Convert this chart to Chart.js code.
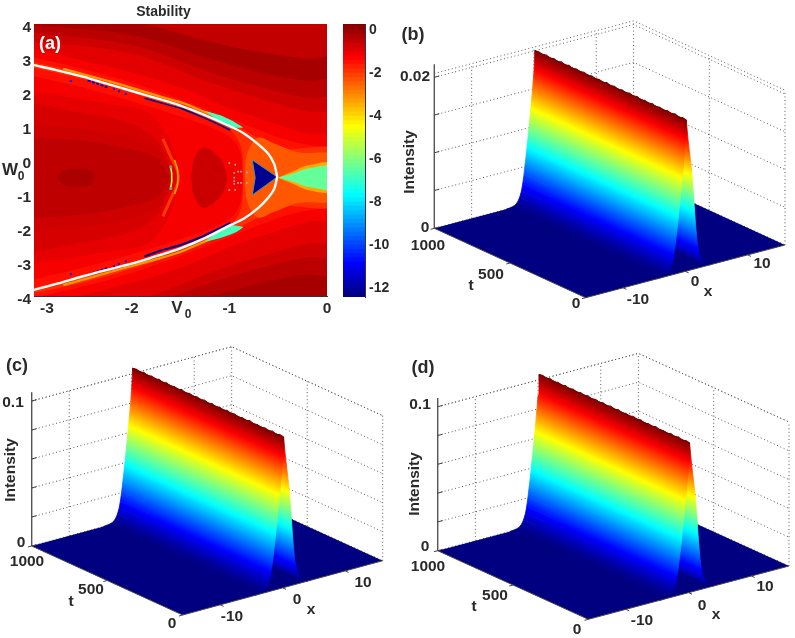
<!DOCTYPE html>
<html><head><meta charset="utf-8">
<script src="https://cdn.jsdelivr.net/npm/chart.js@4"></script>
<style>
html,body{margin:0;padding:0;background:#fff;width:795px;height:638px;overflow:hidden}
canvas{position:absolute;filter:blur(0.35px)}
#a{filter:blur(0.4px)}
</style></head><body>
<canvas id="a" style="left:0;top:0"></canvas>
<canvas id="bar" style="left:340px;top:0"></canvas>
<canvas id="b" style="left:395px;top:0"></canvas>
<canvas id="c" style="left:0;top:325px"></canvas>
<canvas id="d" style="left:395px;top:325px"></canvas>
<script>
/* ---------- data ---------- */
const colorbarLevels=[-12.4,-12.2,-12,-11.8,-11.6,-11.4,-11.2,-11,-10.8,-10.6,-10.4,-10.2,-10,-9.8,-9.6,-9.4,-9.2,-9,-8.8,-8.6,-8.4,-8.2,-8,-7.8,-7.6,-7.4,-7.2,-7,-6.8,-6.6,-6.4,-6.2,-6,-5.8,-5.6,-5.4,-5.2,-5,-4.8,-4.6,-4.4,-4.2,-4,-3.8,-3.6,-3.4,-3.2,-3,-2.8,-2.6,-2.4,-2.2,-2,-1.8,-1.6,-1.4,-1.2,-1,-0.8,-0.6,-0.4,-0.2,0,0.2];
const centreW=-0.52;
/* stability bands, painted in order: value, V0 list, half width about centreW */
const bandValues=[-0.2,-0.45,-0.7,-0.95,-1.2,-1.5,-1.9,-2.4,-3.4,-6.4,-1.5,-1.2,-1.0,-0.8,-0.65,-0.7,-0.5,-0.25];
const bandV=[
[-3.1,-2,-1.2,-0.6,-0.2,0.1],
[-3.1,-2,-1.2,-0.6,-0.2,0.1],
[-3.1,-2,-1.2,-0.6,-0.2,0.1],
[-3.1,-2,-1.2,-0.6,-0.2,0.1],
[-3.1,-2.5,-2,-1.5,-1,-0.6,-0.2,0.1],
[-3.1,-2.5,-2,-1.5,-1,-0.7,-0.4,-0.1,0.1],
[-3.1,-2.5,-2,-1.5,-1,-0.7,-0.5,0.1],
[-0.84,-0.83,-0.78,-0.7,-0.55,-0.3,0.1],
[-0.5,-0.35,-0.2,0.1],
[-0.5,-0.35,-0.2,0.1],
[-3.1,-2.5,-2,-1.5,-1,-0.88,-0.86],
[-3.1,-2.5,-2,-1.5,-1.05,-0.9,-0.86],
[-3.1,-2.6,-2.2,-1.85,-1.65,-1.54,-1.5],
[-3.1,-2.6,-2.2,-1.9,-1.7,-1.6],
[-1.39,-1.36,-1.27,-1.15,-1.06,-1.02],
[-3.1,-2.8,-2.4,-2,-1.7,-1.58],
[-3.1,-2.8,-2.4,-2.05,-1.75,-1.6],
[-2.77,-2.7,-2.55,-2.4,-2.38]];
const bandD=[
[4.9,4.6,4.0,3.65,3.5,3.45],
[4.5,4.2,3.5,3.05,2.85,2.8],
[4.3,3.9,3.1,2.6,2.35,2.25],
[4.05,3.65,2.8,2.25,1.95,1.8],
[3.85,3.45,3.1,2.65,2.05,1.65,1.3,1.15],
[3.6,3.2,2.8,2.3,1.75,1.4,1.1,0.92,0.88],
[3.45,3.08,2.68,2.2,1.62,1.15,0.85,0.78],
[0,0.55,0.95,1.18,1.02,0.75,0.62],
[0,0.18,0.36,0.4],
[0,0.12,0.27,0.32],
[3.3,2.9,2.5,2.02,1.42,0.9,0],
[3.05,2.65,2.25,1.8,1.3,0.85,0],
[2.55,2.35,2.15,1.95,1.3,0.5,0],
[2.25,1.95,1.75,1.45,0.95,0],
[0,0.55,0.88,0.72,0.4,0],
[1.55,1.5,1.4,1.2,0.8,0],
[1.2,1.15,1.05,0.85,0.6,0],
[0,0.2,0.26,0.18,0]];
const curveV=[-3,-2.75,-2.5,-2.25,-2,-1.75,-1.5,-1.25,-1,-0.85,-0.7,-0.6,-0.54,-0.51];
const curveUpperW=[2.79,2.63,2.45,2.24,2.03,1.82,1.6,1.32,1.0,0.78,0.45,0.18,-0.12,-0.5];
const curveLowerW=[-3.82,-3.63,-3.42,-3.23,-3.05,-2.83,-2.6,-2.3,-1.93,-1.72,-1.4,-1.1,-0.85,-0.5];
const triangleV=[-0.765,-0.51,-0.765,-0.735,-0.765];
const triangleW=[0.0,-0.5,-1.03,-0.52,0.0];
const patchV=[-1.25,-1.1,-0.95,-0.86,-0.99,-1.12,-1.25];
const patchUpperW=[1.45,1.32,1.12,0.95,0.98,1.17,1.45];
const patchLowerW=[-2.4,-2.3,-2.15,-1.97,-1.92,-2.12,-2.4];
const haloV=[-2.7,-2.2,-1.7,-1.46,-1.3,-1.12,-0.95];
const haloUpperW=[2.68,2.29,1.86,1.66,1.47,1.25,1.02];
const haloLowerW=[-3.68,-3.28,-2.88,-2.66,-2.46,-2.22,-1.97];
const stripV=[-1.87,-1.7,-1.5,-1.3,-1.15,-0.99];
const stripUpperW=[1.82,1.68,1.52,1.29,1.1,0.88];
const stripLowerW=[-2.84,-2.66,-2.5,-2.28,-2.08,-1.85];
const clusterV=[-2.45,-2.35,-2.25];
const clusterD=[2.86,2.76,2.66];
const scatterV=[-2.18,-2.13,-2.06,-2.62];
const scatterD=[2.6,2.54,2.46,2.84];
const ringV=[-0.95,-0.95,-0.95,-0.95,-0.91,-0.88,-0.91,-0.88,-0.82,-0.82,-1.0,-0.94,-1.0,-0.94];
const ringW=[-0.38,-0.52,-0.62,-0.7,-0.34,-0.34,-0.67,-0.67,-0.37,-0.67,-0.09,-0.14,-0.88,-0.88];
const arcV=[-1.68,-1.6,-1.54,-1.52,-1.54,-1.6,-1.68];
const arcW=[0.62,0.1,-0.25,-0.52,-0.79,-1.14,-1.66];
const coreV=[-1.56,-1.53,-1.53,-1.56];
const coreW=[0.0,-0.3,-0.7,-1.0];
const tealV=[-1.6,-1.59,-1.59,-1.6];
const tealW=[-0.22,-0.4,-0.64,-0.82];
const squareV=[-1.6,-1.6];
const squareW=[-0.2,-0.84];
/* ridge cross-section: x and fraction of peak intensity */
const profileX=[-4.5,-3.6,-3.0,-2.6,-2.3,-2.0,-1.8,-1.6,-1.4,-1.2,-1.0,-0.8,-0.6,-0.4,-0.2,0,0.15,0.4,0.7,1,1.3,1.6,1.9,2.3,2.8,3.4,4];
const profileI=[0,0.004,0.012,0.03,0.055,0.095,0.14,0.2,0.27,0.34,0.42,0.5,0.585,0.67,0.76,0.86,1,0.88,0.77,0.66,0.5,0.31,0.17,0.08,0.03,0.01,0];
const crestT=[0,25,50,75,100,125,150,175,200,225,250,275,300,325,350,375,400,425,450,475,500,525,550,575,600,625,650,675,700,725,750,775,800,825,850,875,900,925,950,975,1000];
const crestRipple=[0,0.006,-0.004,0.007,-0.003,0.006,-0.005,0.004,-0.004,0.007,-0.003,0.005,-0.006,0.006,-0.002,0.007,-0.004,0.005,-0.005,0.006,-0.003,0.007,-0.004,0.005,-0.003,0.006,-0.005,0.007,-0.002,0.005,-0.004,0.006,-0.005,0.007,-0.003,0.005,-0.004,0.006,-0.003,0.005,0];
const tTicks=[0,500,1000];
const xTicks=[-10,0,10];
const zTicksB=[0,0.005,0.01,0.015,0.02];
const zTicksC=[0,0.02,0.04,0.06,0.08,0.1];
const peakB=0.02, peakC=0.1037, peakD=0.1037;

/* ---------- helpers ---------- */
const FONT='"Liberation Sans",Arial,sans-serif', INK='#2a2a2a';
const jetKnots=[[0,0,0,.5],[.125,0,0,1],[.375,0,1,1],[.625,1,1,0],[.875,1,0,0],[1,.5,0,0]];
function jet(t){t=Math.max(0,Math.min(1,t));
 for(let i=1;i<jetKnots.length;i++){const a=jetKnots[i-1],b=jetKnots[i];
  if(t<=b[0]){const f=(t-a[0])/(b[0]-a[0]);
   return `rgb(${[1,2,3].map(k=>Math.round(255*(a[k]+(b[k]-a[k])*f))).join(',')})`;}}
 return 'rgb(128,0,0)';}
const stab=v=>jet((v+12.42)/12.7);
const poly=(pts,color,tension=0.35)=>({data:pts,showLine:true,fill:'shape',backgroundColor:color,borderWidth:0,pointRadius:0,tension});
const line=(pts,color,w,dash,tension=0)=>({data:pts,showLine:true,fill:false,borderColor:color,borderWidth:w,borderDash:dash||[],pointRadius:0,tension});
const dots=(pts,color,r)=>({data:pts,showLine:false,pointRadius:r,pointStyle:'rect',pointBackgroundColor:color,pointBorderWidth:0});
const zip=(X,Y)=>X.map((x,i)=>({x,y:Y[i]}));
const mirror=(V,D)=>{const u=V.map((v,i)=>({x:v,y:centreW+D[i]}));const l=V.map((v,i)=>({x:v,y:centreW-D[i]})).reverse();return u.concat(l);};
const textPlugin={id:'panelText',afterDraw(chart,_a,opts){const c=chart.ctx;const ox=opts.ox||0,oy=opts.oy||0;
 (opts.items||[]).forEach(it=>{c.save();c.translate(it.x-ox,it.y-oy);if(it.rot)c.rotate(it.rot);
  c.font=it.font||`bold 15.5px ${FONT}`;c.fillStyle=it.color||INK;c.textAlign='center';c.textBaseline='middle';
  c.fillText(it.text,0,0);c.restore();});}};
Chart.register(textPlugin);
Chart.defaults.animation=false;
const basePlugins={legend:{display:false},tooltip:{enabled:false}};

/* ---------- (a) stability map ---------- */
(function(){
 const ds=[];
 ds.push(poly([{x:-3.2,y:5},{x:0.2,y:5},{x:0.2,y:-5},{x:-3.2,y:-5},{x:-3.2,y:5}],stab(-0.55),0));
 bandValues.forEach((v,i)=>ds.push(poly(mirror(bandV[i],bandD[i]),stab(v))));
 ds.push(line(zip(arcV,arcW),stab(-2.0),3,[],0.4));
 ds.push(line(zip(coreV,coreW),stab(-3.4),1.5,[],0.4));
 ds.push(line(zip(tealV,tealW),stab(-5.2),1.6,[],0));
 ds.push(dots(zip(squareV,squareW),'#6f9a98',2));
 ds.push(line(zip(haloV,haloUpperW),stab(-3.2),2.2,[],0.3));
 ds.push(line(zip(haloV,haloLowerW),stab(-3.2),2.2,[],0.3));
 ds.push(poly(zip(patchV,patchUpperW),stab(-6.8),0.2));
 ds.push(poly(zip(patchV,patchLowerW),stab(-6.8),0.2));
 ds.push(line(zip(stripV,stripUpperW),stab(-12.2),1.5,[],0.2));
 ds.push(line(zip(stripV,stripLowerW),stab(-12.2),2,[],0.2));
 [1,-1].forEach(s=>{
  ds.push(line(clusterV.map((v,i)=>({x:v,y:centreW+s*clusterD[i]})),stab(-11.6),2,[3,1.5],0));
  ds.push(dots(scatterV.map((v,i)=>({x:v,y:centreW+s*scatterD[i]})),stab(-11),1.3));
 });
 ds.push(dots(zip(ringV,ringW),'#8fb0a8',1.2));
 const tri=poly(zip(triangleV,triangleW),stab(-12.2),0);
 tri.borderWidth=1;tri.borderColor='#4f8f96';ds.push(tri);
 ds.push(line(zip(curveV,curveUpperW),'#fff',2.4,[],0.35));
 ds.push(line(zip(curveV,curveLowerW),'#fff',2.4,[],0.35));
 const el=document.getElementById('a');el.width=340;el.height=325;
 new Chart(el,{type:'scatter',data:{datasets:ds.reverse()},options:{responsive:false,events:[],
  layout:{padding:{right:13,left:0,top:0,bottom:0}},
  plugins:{...basePlugins,
   title:{display:true,text:'Stability',font:{family:FONT,size:14,weight:'bold'},color:INK,padding:{top:4,bottom:3.2}},
   panelText:{items:[
    {text:'(a)',x:50,y:44,color:'#fff',font:`bold 18px ${FONT}`},
    {text:'W',x:10,y:170,font:`bold 17px ${FONT}`},{text:'0',x:21,y:177,font:`bold 12px ${FONT}`},
    {text:'V',x:177,y:308,font:`bold 17px ${FONT}`},{text:'0',x:188,y:315,font:`bold 12px ${FONT}`}]}},
  scales:{
   x:{type:'linear',min:-3,max:0,afterFit:s=>{s.height=29},border:{color:'#333'},grid:{display:false,drawTicks:false},
      ticks:{stepSize:1,padding:3,maxRotation:0,autoSkip:false,color:INK,font:{family:FONT,size:15.5,weight:'bold'},
             callback:v=>v===-3?'      -3':String(v)}},
   y:{type:'linear',min:-4,max:4,afterFit:s=>{s.width=34},border:{color:'#333'},grid:{display:false,drawTicks:false},
      ticks:{stepSize:1,padding:3,autoSkip:false,labelOffset:4,color:INK,font:{family:FONT,size:15.5,weight:'bold'}}}}}});
})();

/* ---------- colour bar ---------- */
(function(){
 const el=document.getElementById('bar');el.width=55;el.height=325;
 new Chart(el,{type:'bar',data:{labels:['Stability'],datasets:colorbarLevels.map(v=>({data:[[v-0.02,v+0.2]],backgroundColor:stab(v+0.1),borderWidth:0,barPercentage:1,categoryPercentage:1,grouped:false}))},
  options:{responsive:false,events:[],layout:{padding:{left:3,right:0,top:24,bottom:28}},plugins:basePlugins,
  scales:{x:{display:false},
   y:{position:'right',min:-12.42,max:0.28,afterFit:s=>{s.width=30},afterBuildTicks:s=>{s.ticks=[-12,-10,-8,-6,-4,-2,0].map(value=>({value}))},
      border:{color:'#334'},grid:{display:false,drawTicks:false},
      ticks:{padding:4,autoSkip:false,color:INK,font:{family:FONT,size:14,weight:'bold'}}}}}});
})();

/* ---------- (b) (c) (d) ridge surfaces ---------- */
function surface(id,rect,geo,peak,zTicks,zTop,items){
 const {L,B,R,zScale}=geo;
 const P=(t,x,I)=>({x:B[0]+t/1000*(L[0]-B[0])+(x+16)/32*(R[0]-B[0]),
                    y:B[1]+t/1000*(L[1]-B[1])+(x+16)/32*(R[1]-B[1])-I*zScale});
 const ds=[];const dot=[1,2.6];const gridC='#5a5a5a';
 /* back walls */
 zTicks.concat(zTop).forEach(z=>{
  ds.push(line([P(1000,-16,z),P(1000,16,z),P(0,16,z)],gridC,1,dot));});
 xTicks.concat(16).forEach(x=>ds.push(line([P(1000,x,0),P(1000,x,zTop)],gridC,1,dot)));
 [500,0].forEach(t=>ds.push(line([P(t,16,0),P(t,16,zTop)],gridC,1,dot)));
 /* floor */
 ds.push(poly([P(0,-16,0),P(1000,-16,0),P(1000,16,0),P(0,16,0),P(0,-16,0)],jet(0),0));
 /* ridge quads, far side first */
 const tx=L[0]-B[0],ty=L[1]-B[1],nx=-ty,ny=tx,nn=nx*nx+ny*ny;
 const grad=(a,b,ia,ib)=>cx=>{
  const ch=cx.chart;
  const ax=a.x-rect.x,ay=a.y-rect.y,bx=b.x-rect.x,by=b.y-rect.y;
  const k=((bx-ax)*nx+(by-ay)*ny)/nn;
  if(ia===ib||Math.abs(k)<1e-6)return jet((ia+ib)/2);
  const g=ch.ctx.createLinearGradient(ax,ay,ax+nx*k,ay+ny*k);
  for(let s=0;s<=8;s++)g.addColorStop(s/8,jet(ia+(ib-ia)*s/8));
  return g;};
 for(let i=profileX.length-2;i>=0;i--){
  const x1=profileX[i],x2=profileX[i+1],f1=profileI[i],f2=profileI[i+1];
  const a=P(0,x1,f1*peak),b=P(0,x2,f2*peak);
  const q=[a,P(1000,x1,f1*peak),P(1000,x2,f2*peak),b,a];
  const fn=grad(a,b,f1,f2);
  ds.push({data:q,showLine:true,fill:'shape',backgroundColor:fn,borderColor:fn,borderWidth:0.8,pointRadius:0,tension:0});
 }
 /* jagged crest */
 ds.push(line(crestT.map((t,i)=>P(t,0.15,peak*(1+crestRipple[i]))),'#7a0000',1.1));
 /* axes */
 const axisC='#444';
 ds.push(line([P(1000,-16,0),P(1000,-16,zTop*1.06)],'#555',1.4));
 ds.push(line([P(1000,-16,0),P(0,-16,0)],axisC,1));
 ds.push(line([P(0,-16,0),P(0,16,0)],axisC,1));
 zTicks.forEach(z=>ds.push(line([P(1000,-16,z),P(1000,-15.2,z)],axisC,1)));
 tTicks.forEach(t=>ds.push(line([P(t,-16,0),P(t,-16.6,0)],axisC,1)));
 xTicks.forEach(x=>ds.push(line([P(0,x,0),P(-22,x,0)],axisC,1)));
 const el=document.getElementById(id);el.width=rect.w;el.height=rect.h;
 new Chart(el,{type:'scatter',data:{datasets:ds.reverse()},options:{responsive:false,events:[],
  layout:{padding:0},plugins:{...basePlugins,panelText:{ox:rect.x,oy:rect.y,items}},
  scales:{x:{display:false,min:rect.x,max:rect.x+rect.w},y:{display:false,reverse:true,min:rect.y,max:rect.y+rect.h}}}});
}
const big=`bold 18px ${FONT}`, rotI=-Math.PI/2;
surface('b',{x:395,y:0,w:400,h:325},{L:[434.3,228.3],B:[585.7,297.7],R:[785,245],zScale:151/0.02},peakB,zTicksB,0.0205,[
 {text:'(b)',x:413,y:35,font:big},{text:'0.02',x:415,y:77},{text:'0',x:425,y:228},{text:'1000',x:428,y:246},
 {text:'500',x:491,y:275},{text:'0',x:576,y:304},{text:'-10',x:638,y:300},{text:'0',x:695,y:282},{text:'10',x:762,y:264},
 {text:'x',x:708,y:292},{text:'t',x:471,y:286},{text:'Intensity',x:410,y:162,rot:rotI}]);
surface('c',{x:0,y:325,w:395,h:313},{L:[31.7,546],B:[182.7,615],R:[382.7,560.7],zScale:145/0.1},peakC,zTicksC,0.1,[
 {text:'(c)',x:17,y:366,font:big},{text:'0.1',x:13,y:403},{text:'0',x:21,y:543},{text:'1000',x:27,y:562},
 {text:'500',x:91,y:590},{text:'0',x:172,y:624},{text:'-10',x:232,y:617},{text:'0',x:297,y:600},{text:'10',x:363,y:583},
 {text:'x',x:311,y:610},{text:'t',x:71,y:602},{text:'Intensity',x:11,y:470,rot:rotI}]);
surface('d',{x:395,y:325,w:400,h:313},{L:[437.7,550.7],B:[588.3,619.3],R:[789,566],zScale:144/0.1},peakD,zTicksC,0.1,[
 {text:'(d)',x:423,y:368,font:big},{text:'0.1',x:420,y:405},{text:'0',x:425,y:547},{text:'1000',x:428,y:567},
 {text:'500',x:495,y:596},{text:'0',x:577,y:630},{text:'-10',x:642,y:621},{text:'0',x:702,y:606},{text:'10',x:765,y:587},
 {text:'x',x:716,y:615},{text:'t',x:474,y:607},{text:'Intensity',x:415,y:484,rot:rotI}]);
</script>
</body></html>
